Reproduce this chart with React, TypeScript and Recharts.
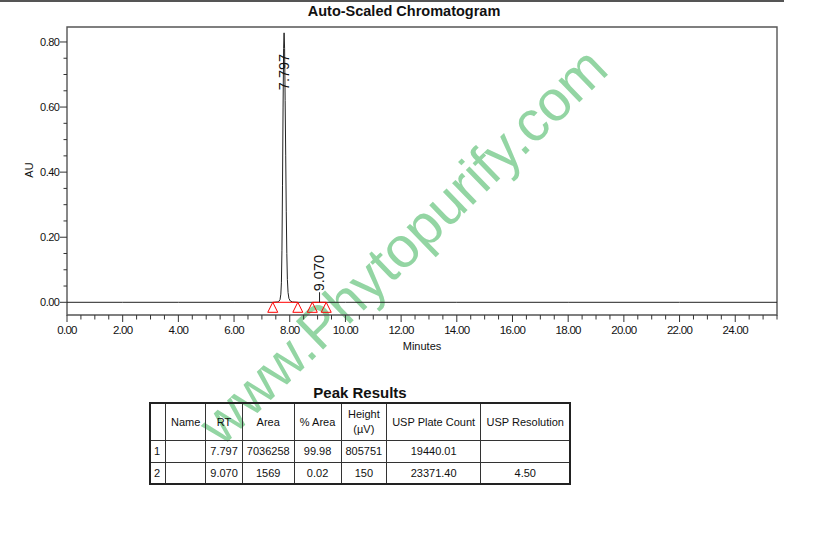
import {
  ComposedChart,
  Line,
  Scatter,
  XAxis,
  YAxis,
  ReferenceLine,
  ReferenceArea,
} from "recharts";

// chromatogram trace (minutes / AU)
const traceMinutes = [
  0, 2, 4, 6, 7.4, 7.55, 7.6, 7.65, 7.68, 7.7, 7.72, 7.74, 7.76, 7.78, 7.797,
  7.815, 7.835, 7.855, 7.875, 7.895, 7.915, 7.94, 7.97, 8.02, 8.1, 8.3, 10, 14,
  18, 22, 25.5,
];
const traceAU = [
  0, 0, 0, 0, 0, 0.001, 0.002, 0.008, 0.025, 0.06, 0.16, 0.36, 0.6, 0.78,
  0.828, 0.78, 0.62, 0.45, 0.28, 0.15, 0.07, 0.03, 0.012, 0.004, 0.001, 0, 0,
  0, 0, 0, 0,
];

// integration start/end marks
const markMinutes = [7.39, 8.29, 8.81, 9.31];

// peak labels and where the label text sits
const peakLabels = ["7.797", "9.070"];
const peakRT = [7.797, 9.07];
const labelAnchorAU = [0.652, 0.034];

// axis ticks
const xTicks = [
  0, 0.5, 1, 1.5, 2, 2.5, 3, 3.5, 4, 4.5, 5, 5.5, 6, 6.5, 7, 7.5, 8, 8.5, 9,
  9.5, 10, 10.5, 11, 11.5, 12, 12.5, 13, 13.5, 14, 14.5, 15, 15.5, 16, 16.5, 17,
  17.5, 18, 18.5, 19, 19.5, 20, 20.5, 21, 21.5, 22, 22.5, 23, 23.5, 24, 24.5,
  25, 25.5,
];
const yTicks = [
  0, 0.05, 0.1, 0.15, 0.2, 0.25, 0.3, 0.35, 0.4, 0.45, 0.5, 0.55, 0.6, 0.65,
  0.7, 0.75, 0.8,
];

// peak results table
const peakNo = ["1", "2"];
const peakName = ["", ""];
const peakRTText = ["7.797", "9.070"];
const peakArea = ["7036258", "1569"];
const peakPctArea = ["99.98", "0.02"];
const peakHeight = ["805751", "150"];
const plateCount = ["19440.01", "23371.40"];
const resolution = ["", "4.50"];

const FONT = "'Liberation Sans', Arial, sans-serif";

const trace = traceMinutes.map((t, i) => ({ t, au: traceAU[i] }));
const marks = markMinutes.map((t) => ({ t, au: 0 }));
const labels = peakLabels.map((label, i) => ({
  t: peakRT[i],
  au: labelAnchorAU[i],
  label,
}));

const XTick = (props: any) => {
  const { x, y, payload } = props;
  const v = payload.value as number;
  const major = Math.round(v * 10) % 20 === 0;
  return (
    <g>
      <line x1={x} x2={x} y1={y} y2={y + (major ? 7 : 4.5)} stroke="#333" />
      {major && (
        <text
          x={x}
          y={y + 18.5}
          textAnchor="middle"
          fontSize={11.5}
          letterSpacing={-0.7}
          fontFamily={FONT}
          fill="#111"
        >
          {v.toFixed(2)}
        </text>
      )}
    </g>
  );
};

const YTick = (props: any) => {
  const { x, y, payload } = props;
  const v = payload.value as number;
  const major = Math.round(v * 100) % 20 === 0;
  return (
    <g>
      <line x1={x} x2={x - (major ? 7 : 3.5)} y1={y} y2={y} stroke="#333" />
      {major && (
        <text
          x={x - 7.5}
          y={y + 4}
          textAnchor="end"
          fontSize={11}
          letterSpacing={-0.5}
          fontFamily={FONT}
          fill="#111"
        >
          {v.toFixed(2)}
        </text>
      )}
    </g>
  );
};

const Triangle = (props: any) => {
  const { cx, cy } = props;
  return (
    <polygon
      points={`${cx},${cy} ${cx - 5},${cy + 10} ${cx + 5},${cy + 10}`}
      fill="none"
      stroke="#ff0000"
      strokeWidth={1}
    />
  );
};

const PeakLabel = (props: any) => {
  const { cx, cy, payload } = props;
  return (
    <text
      transform={`translate(${cx + 4.5},${cy}) rotate(-90)`}
      fontSize={14.5}
      fontFamily={FONT}
      fill="#111"
    >
      {payload.label}
    </text>
  );
};

const colWidths = [15.7, 40, 36.7, 51.7, 47, 45.6, 94, 89.7];

const cell: React.CSSProperties = {
  border: "1.5px solid #333",
  padding: 0,
  textAlign: "center",
  verticalAlign: "middle",
  fontSize: 11,
  color: "#111",
  whiteSpace: "nowrap",
};

export default function App() {
  return (
    <div
      style={{
        position: "absolute",
        left: 0,
        top: 0,
        width: 823,
        height: 535,
        background: "#fff",
        overflow: "hidden",
        fontFamily: FONT,
      }}
    >
      {/* watermark, under everything */}
      <svg
        width={823}
        height={535}
        style={{ position: "absolute", left: 0, top: 0 }}
      >
        <text
          transform="translate(406,249) rotate(-44)"
          textAnchor="middle"
          dy="0.26em"
          fontSize={57}
          fontFamily={FONT}
          fill="#93d5a3"
        >
          www.Phytopurify.com
        </text>
      </svg>

      <div
        style={{
          position: "absolute",
          left: 0,
          top: 0,
          width: 784,
          height: 2,
          background: "#555",
        }}
      />

      <div style={{ position: "absolute", left: 0, top: 0 }}>
        <ComposedChart
          width={823}
          height={360}
          margin={{ top: 27, right: 46, bottom: 15, left: 0 }}
        >
          <XAxis
            type="number"
            dataKey="t"
            domain={[0, 25.5]}
            allowDataOverflow
            ticks={xTicks}
            interval={0}
            tick={<XTick />}
            tickLine={false}
            tickSize={0}
            tickMargin={0}
            axisLine={false}
            height={30}
          />
          <YAxis
            type="number"
            dataKey="au"
            domain={[-0.039, 0.846]}
            allowDataOverflow
            ticks={yTicks}
            interval={0}
            tick={<YTick />}
            tickLine={false}
            tickSize={0}
            tickMargin={0}
            axisLine={false}
            width={67}
          />
          <ReferenceArea
            x1={0}
            x2={25.5}
            y1={-0.039}
            y2={0.846}
            fill="none"
            stroke="#555"
            strokeWidth={1.4}
          />
          <Line
            data={trace}
            dataKey="au"
            type="linear"
            stroke="#222"
            strokeWidth={1}
            dot={false}
            isAnimationActive={false}
          />
          <ReferenceLine
            segment={[
              { x: markMinutes[0], y: 0 },
              { x: markMinutes[1], y: 0 },
            ]}
            stroke="#ff0000"
          />
          <ReferenceLine
            segment={[
              { x: markMinutes[2], y: 0 },
              { x: markMinutes[3], y: 0 },
            ]}
            stroke="#ff0000"
          />
          <ReferenceLine
            segment={[
              { x: peakRT[1], y: 0 },
              { x: peakRT[1], y: 0.031 },
            ]}
            stroke="#222"
          />
          <Scatter
            data={marks}
            dataKey="au"
            shape={<Triangle />}
            isAnimationActive={false}
          />
          <Scatter
            data={labels}
            dataKey="au"
            shape={<PeakLabel />}
            isAnimationActive={false}
          />
        </ComposedChart>
      </div>

      <svg
        width={823}
        height={535}
        style={{ position: "absolute", left: 0, top: 0, pointerEvents: "none" }}
      >
        <text
          x={404}
          y={16}
          textAnchor="middle"
          fontSize={14.5}
          fontWeight="bold"
          fontFamily={FONT}
          fill="#111"
        >
          Auto-Scaled Chromatogram
        </text>
        <text
          transform="translate(33,170) rotate(-90)"
          textAnchor="middle"
          fontSize={11}
          fontFamily={FONT}
          fill="#111"
        >
          AU
        </text>
        <text
          x={422}
          y={350}
          textAnchor="middle"
          fontSize={11}
          fontFamily={FONT}
          fill="#111"
        >
          Minutes
        </text>
        <text
          x={360}
          y={398}
          textAnchor="middle"
          fontSize={15}
          fontWeight="bold"
          fontFamily={FONT}
          fill="#111"
        >
          Peak Results
        </text>
      </svg>

      <table
        style={{
          position: "absolute",
          left: 149,
          top: 402,
          width: 421,
          borderCollapse: "collapse",
          tableLayout: "fixed",
          border: "2px solid #222",
          fontFamily: FONT,
        }}
      >
        <colgroup>
          {colWidths.map((w, i) => (
            <col key={i} style={{ width: w }} />
          ))}
        </colgroup>
        <tbody>
          <tr style={{ height: 37 }}>
            <td style={cell}></td>
            <td style={cell}>Name</td>
            <td style={cell}>RT</td>
            <td style={cell}>Area</td>
            <td style={cell}>% Area</td>
            <td style={{ ...cell, lineHeight: "15px" }}>
              Height
              <br />
              (µV)
            </td>
            <td style={cell}>USP Plate Count</td>
            <td style={cell}>USP Resolution</td>
          </tr>
          {peakNo.map((n, i) => (
            <tr key={n} style={{ height: 22 }}>
              <td style={{ ...cell, textAlign: "left", paddingLeft: 3 }}>{n}</td>
              <td style={cell}>{peakName[i]}</td>
              <td style={cell}>{peakRTText[i]}</td>
              <td style={cell}>{peakArea[i]}</td>
              <td style={cell}>{peakPctArea[i]}</td>
              <td style={cell}>{peakHeight[i]}</td>
              <td style={cell}>{plateCount[i]}</td>
              <td style={cell}>{resolution[i]}</td>
            </tr>
          ))}
        </tbody>
      </table>
    </div>
  );
}
